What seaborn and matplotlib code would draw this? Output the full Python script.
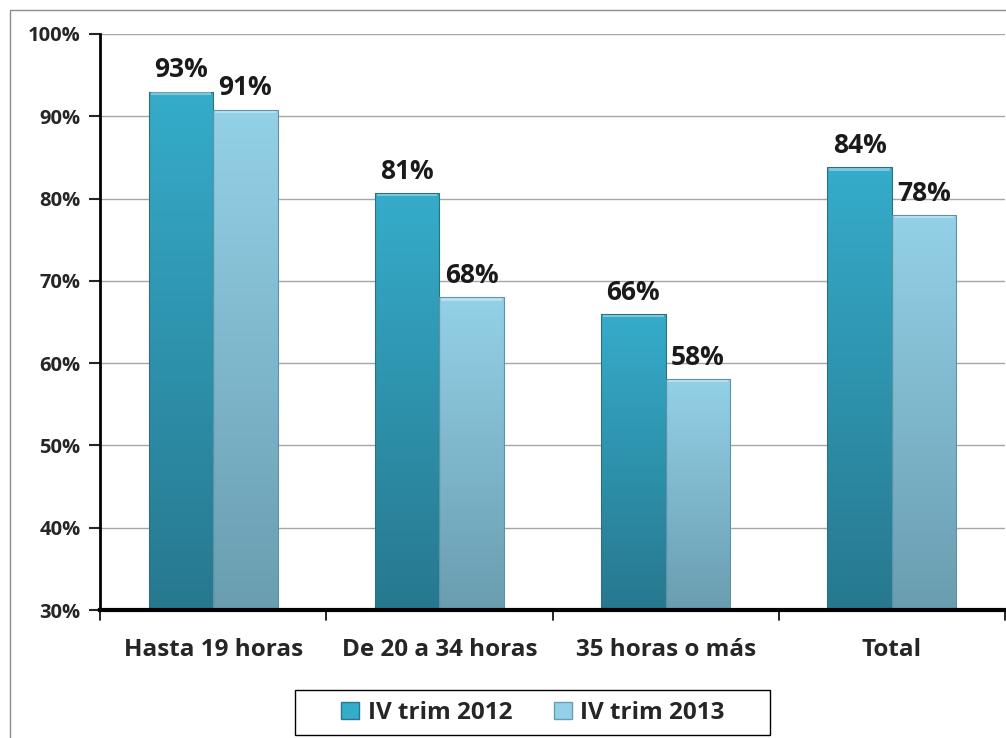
import numpy as np
import pandas as pd
import matplotlib
matplotlib.use('Agg')
import matplotlib.pyplot as plt
import seaborn as sns
from matplotlib.colors import LinearSegmentedColormap
from matplotlib.patches import Rectangle, Patch

# data
categories = ['Hasta 19 horas', 'De 20 a 34 horas', '35 horas o más', 'Total']
series = ['IV trim 2012', 'IV trim 2013']
vals_2012 = [0.93, 0.807, 0.66, 0.838]
vals_2013 = [0.908, 0.68, 0.581, 0.78]
yticks = [0.3, 0.4, 0.5, 0.6, 0.7, 0.8, 0.9, 1.0]

df = pd.DataFrame({
    'cat': categories * 2,
    'serie': [series[0]] * 4 + [series[1]] * 4,
    'val': vals_2012 + vals_2013,
})

# top / bottom colours of the gradient for each series
grad = {
    series[0]: ('#35acca', '#27788f'),
    series[1]: ('#93d1e8', '#6a9db0'),
}

sns.set_style('white')
plt.rcParams['font.family'] = ['Open Sans', 'DejaVu Sans']
plt.rcParams['font.weight'] = 'bold'

fig = plt.figure(figsize=(10.06, 7.38), dpi=100)
ax = fig.add_axes([100 / 1006, 1 - 610 / 738, 905 / 1006, 576 / 738])

sns.barplot(data=df, x='cat', y='val', hue='serie', order=categories,
            hue_order=series, width=0.57, palette=[grad[s][0] for s in series],
            ax=ax, legend=False, zorder=3)

ax.set_ylim(0.3, 1.0)
ax.set_xlim(-0.5, 3.5)

# gradient fill for every bar
for i, cont in enumerate(ax.containers):
    top_c, bot_c = grad[series[i]]
    cmap = LinearSegmentedColormap.from_list('g%d' % i, [bot_c, top_c])
    for bar, v in zip(cont, [vals_2012, vals_2013][i]):
        x0, w = bar.get_x(), bar.get_width()
        bar.set_facecolor('none')
        bar.set_edgecolor('#2f6f80' if i == 0 else '#5d93a4')
        bar.set_linewidth(0.8)
        img = ax.imshow(np.linspace(0, 1, 256).reshape(-1, 1), cmap=cmap,
                        origin='lower', aspect='auto',
                        extent=(x0, x0 + w, 0.3, v), zorder=2.5)
        img.set_clip_path(bar)
        # little bevel highlight on top
        ax.add_patch(Rectangle((x0 + w * 0.03, v - 0.004), w * 0.94, 0.003,
                               color='white', alpha=0.35, lw=0, zorder=3.2))
        ax.text(x0 + w / 2, v + 0.01, f'{v * 100:.0f}%', ha='center', va='bottom',
                fontsize=19, fontweight='bold', color='#1a1a1a', zorder=4)

ax.set_aspect('auto')
ax.set_yticks(yticks)
ax.set_yticklabels([f'{t * 100:.0f}%' for t in yticks], fontsize=14.5, fontweight='bold')
ax.set_xticks(range(len(categories)))
ax.set_xticklabels(categories, fontsize=17.5, fontweight='bold')
ax.tick_params(axis='x', length=0, pad=20)
ax.tick_params(axis='y', length=8, width=1.5, direction='out', left=True, pad=6)
ax.set_xlabel('')
ax.set_ylabel('')

# boundary ticks between categories
for xb in [-0.5, 0.5, 1.5, 2.5, 3.5]:
    ax.plot([xb, xb], [0.3, 0.3 - 0.012], color='black', lw=1.2, clip_on=False, zorder=5)

ax.grid(axis='y', color='#a6a6a6', lw=1, zorder=0)
ax.set_axisbelow(True)
for s in ['top', 'right']:
    ax.spines[s].set_visible(False)
ax.spines['left'].set_color('black')
ax.spines['left'].set_linewidth(2)
ax.spines['bottom'].set_color('black')
ax.spines['bottom'].set_linewidth(3)
ax.spines['left'].set_zorder(5)
ax.spines['bottom'].set_zorder(5)

# legend (frame drawn separately so it can be wider than the content)
handles = [Patch(facecolor=grad[s][0], edgecolor=grad[s][1], label=s) for s in series]
leg = fig.legend(handles=handles, loc='center', bbox_to_anchor=(533 / 1006, 1 - 713 / 738), ncol=2,
                 frameon=False, fontsize=17.5, handlelength=0.75,
                 handleheight=0.75, columnspacing=1.7, handletextpad=0.35,
                 borderpad=0, borderaxespad=0)
for t in leg.get_texts():
    t.set_fontweight('bold')
fig.patches.append(Rectangle((295 / 1006, 1 - 735 / 738), 475 / 1006, 45 / 738,
                             transform=fig.transFigure, fill=False,
                             edgecolor='black', lw=1))

# outer chart border
fig.patches.append(Rectangle((10 / 1006, -0.1), 1.2, 1 - 10 / 738 + 0.1,
                             transform=fig.transFigure, fill=False,
                             edgecolor='#8c8c8c', lw=1))

fig.savefig('out.png', dpi=100)
